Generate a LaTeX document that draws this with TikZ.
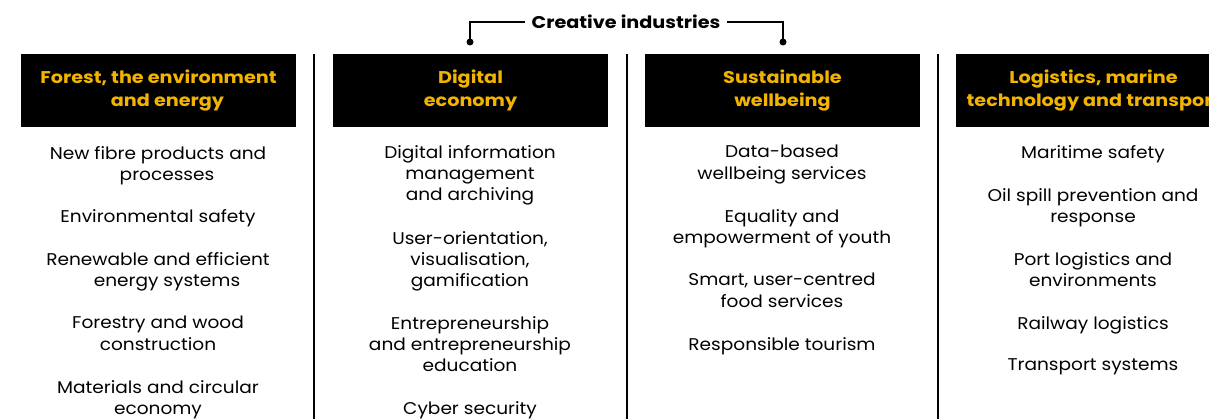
\documentclass[tikz,border=0pt]{standalone}
\usepackage{fontspec}
\setmainfont{Poppins}[FakeStretch=1.09, BoldFeatures={FakeStretch=1.13}]
\usepackage{xcolor}
\usepackage{tikz}
\usetikzlibrary{positioning, calc}
\definecolor{gold}{RGB}{242,180,0}

\begin{document}
\begin{tikzpicture}[x=1pt, y=-1pt]
	\tikzstyle{head}=[fill=black, minimum width=275pt, minimum height=73pt, inner sep=0pt, text=gold, align=center, font=\fontsize{17}{23}\selectfont\bfseries]
	\tikzstyle{item}=[anchor=north, inner sep=0pt, align=center, font=\fontsize{17}{21.3}\selectfont]
	\tikzstyle{sepline}=[line width=1.8pt]
	\tikzstyle{brk}=[line width=1.4pt]
	\tikzstyle{dotc}=[circle, fill=black, inner sep=0pt, minimum size=7pt]

	\useasboundingbox (0,0) rectangle (1209,419);
	\clip (0,0) rectangle (1209,419);

	% creative industries bracket
	\node (ci) at (626,22) [inner xsep=6pt, font=\fontsize{17}{20}\selectfont\bfseries] {Creative industries};
	\node (dl) at (470,42) [dotc] {};
	\node (dr) at (783,42) [dotc] {};
	\draw [brk] (ci.west) -| (dl.center);
	\draw [brk] (ci.east) -| (dr.center);

	% headers
	\node (h1) at (158.5,90.5) [head] {Forest, the environment\\ \hspace*{18pt}and energy};
	\node (h2) at (470.5,90.5) [head] {Digital\\ economy};
	\node (h3) at (782.5,90.5) [head] {Sustainable\\ wellbeing};
	\node (h4) at (1093.5,90.5) [head] {Logistics, marine\\ technology and transport};

	% separators
	\coordinate (s1t) at (314,54);
	\coordinate (s1b) at (314,419);
	\coordinate (s2t) at (627,54);
	\coordinate (s2b) at (627,419);
	\coordinate (s3t) at (938,54);
	\coordinate (s3b) at (938,419);
	\draw [sepline] (s1t) -- (s1b);
	\draw [sepline] (s2t) -- (s2b);
	\draw [sepline] (s3t) -- (s3b);

	% forest
	\node (f1) at (158,146) [item] {New fibre products and\\ \hspace*{18pt}processes};
	\node (f2) at (158,209) [item] {Environmental safety};
	\node (f3) at (158,252) [item] {Renewable and efficient\\ \hspace*{18pt}energy systems};
	\node (f4) at (158,316) [item] {Forestry and wood\\ construction};
	\node (f5) at (158,380) [item] {Materials and circular\\ economy};

	% digital
	\node (d1) at (470,145) [item] {Digital information\\ management\\ and archiving};
	\node (d2) at (470,231) [item] {User-orientation,\\ visualisation,\\ gamification};
	\node (d3) at (470,316) [item] {Entrepreneurship\\ and entrepreneurship\\ education};
	\node (d4) at (470,401) [item] {Cyber security};

	% wellbeing
	\node (w1) at (782,145) [item] {Data-based\\ wellbeing services};
	\node (w2) at (782,209) [item] {Equality and\\ empowerment of youth};
	\node (w3) at (782,273) [item] {Smart, user-centred\\ food services};
	\node (w4) at (782,337) [item] {Responsible tourism};

	% logistics
	\node (l1) at (1093,145) [item] {Maritime safety};
	\node (l2) at (1093,188) [item] {Oil spill prevention and\\ response};
	\node (l3) at (1093,252) [item] {Port logistics and\\ environments};
	\node (l4) at (1093,316) [item] {Railway logistics};
	\node (l5) at (1093,358) [item] {Transport systems};
\end{tikzpicture}
\end{document}
